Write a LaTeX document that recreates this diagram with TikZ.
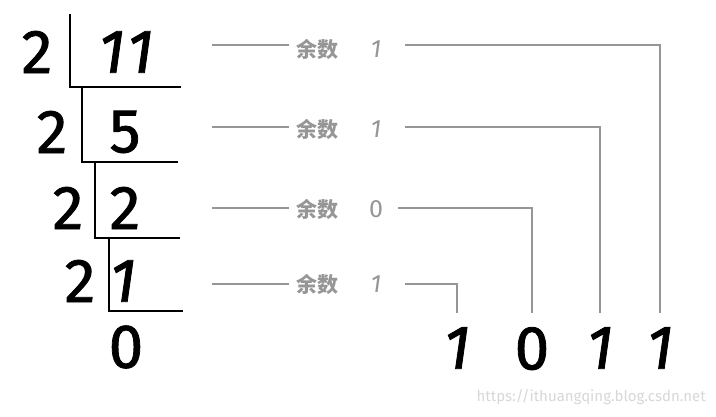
\documentclass[tikz,border=0pt]{standalone}
\usepackage{fontspec}
\setmainfont{Fira Sans}
\newfontfamily\digfont[FakeBold=1.3]{Fira Sans}
\newfontfamily\cjk{Noto Sans CJK SC}
\definecolor{remgrey}{RGB}{150,150,150}
\definecolor{wmgrey}{RGB}{215,215,215}
\newcommand{\slone}{{\itshape 1}}
\begin{document}
\begin{tikzpicture}[x=1pt,y=-1pt,
  big/.style={inner sep=0pt,font=\digfont\fontsize{62}{62}\selectfont},
  rem/.style={inner sep=0pt,text=remgrey,font=\cjk\fontsize{21}{21}\selectfont\bfseries},
  remd/.style={inner sep=0pt,text=remgrey,font=\fontsize{25}{25}\selectfont\itshape},
  divline/.style={line width=2pt,black},
  greyline/.style={line width=1.5pt,remgrey}]
\useasboundingbox (0,0) rectangle (716,416);
% division ladder
\node[big] (d1) at (37,52) {2};
\node[big] (q1) at (126,52) {\slone\kern2pt\slone};
\node[big] (d2) at (52,132) {2};
\node[big] (q2) at (125,132) {5};
\node[big] (d3) at (68,208) {2};
\node[big] (q3) at (125,208) {2};
\node[big] (d4) at (80,281) {2};
\node[big] (q4) at (123,281) {\slone};
\node[big] (q5) at (126,347) {0};
\coordinate (v1t) at (70,14);
\coordinate (c1) at (70,87);
\coordinate (h1) at (181,87);
\coordinate (c2) at (82,162);
\coordinate (h2) at (178,162);
\coordinate (c3) at (95,238);
\coordinate (h3) at (180,238);
\coordinate (c4) at (109,311);
\coordinate (h4) at (183,311);
\draw[divline] (v1t) -- (c1) -- (h1);
\draw[divline] (c1 -| c2) -- (c2) -- (h2);
\draw[divline] (c2 -| c3) -- (c3) -- (h3);
\draw[divline] (c3 -| c4) -- (c4) -- (h4);
% remainders
\node[rem] (r1) at (317,49) {余数};
\node[rem] (r2) at (317,129) {余数};
\node[rem] (r3) at (317,209) {余数};
\node[rem] (r4) at (317,284) {余数};
\node[remd] (m1) at (376,49) {1};
\node[remd] (m2) at (376,129) {1};
\node[remd,font=\fontsize{25}{25}\selectfont] (m3) at (376,209) {0};
\node[remd] (m4) at (376,284) {1};
% result digits
\node[big,anchor=north] (o1) at (457,327) {\slone};
\node[big,anchor=north] (o2) at (532,327) {0};
\node[big,anchor=north] (o3) at (600,327) {\slone};
\node[big,anchor=north] (o4) at (660,327) {\slone};
% grey connectors
\coordinate (a1) at (212,45);
\coordinate (a2) at (212,127);
\coordinate (a3) at (212,208);
\coordinate (a4) at (212,284);
\coordinate (b1) at (405,45);
\coordinate (b2) at (405,127);
\coordinate (b3) at (398,208);
\coordinate (b4) at (405,284);
\draw[greyline] (a1) -- ([xshift=-7pt]a1 -| r1.west);
\draw[greyline] (a2) -- ([xshift=-7pt]a2 -| r2.west);
\draw[greyline] (a3) -- ([xshift=-7pt]a3 -| r3.west);
\draw[greyline] (a4) -- ([xshift=-7pt]a4 -| r4.west);
\draw[greyline] (b1) -| ([yshift=14pt]o4.north);
\draw[greyline] (b2) -| ([yshift=14pt]o3.north);
\draw[greyline] (b3) -| ([yshift=14pt]o2.north);
\draw[greyline] (b4) -| ([yshift=14pt]o1.north);
% watermark
\node[inner sep=0pt,text=wmgrey,font=\fontsize{15}{15}\selectfont,anchor=east] (wm) at (706,397) {https://ithuangqing.blog.csdn.net};
\end{tikzpicture}
\end{document}
